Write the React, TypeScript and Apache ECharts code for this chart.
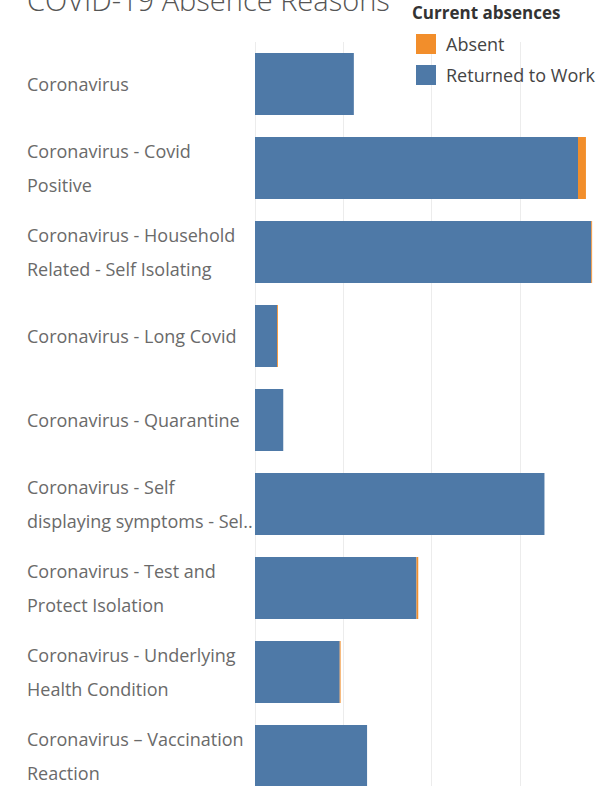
import React, { useEffect, useRef } from "react";
import * as echarts from "echarts";

const categories = [
  "Coronavirus",
  "Coronavirus - Covid\nPositive",
  "Coronavirus - Household\nRelated - Self Isolating",
  "Coronavirus - Long Covid",
  "Coronavirus - Quarantine",
  "Coronavirus - Self\ndisplaying symptoms - Sel..",
  "Coronavirus - Test and\nProtect Isolation",
  "Coronavirus - Underlying\nHealth Condition",
  "Coronavirus \u2013 Vaccination\nReaction",
];
const returnedToWork = [112, 366, 381, 25, 32, 328, 183, 96, 127];
const absent = [0, 9, 1, 1, 0, 0, 2, 1, 0];
const seriesNames = ["Absent", "Returned to Work"];

const FONT = "'Open Sans', sans-serif";

export default function App() {
  const ref = useRef<HTMLDivElement>(null);
  useEffect(() => {
    if (!ref.current) return;
    const chart = echarts.init(ref.current, null, { renderer: "svg" });
    chart.setOption({
      animation: false,
      backgroundColor: "#ffffff",
      grid: { left: 255, top: 42, width: 354, height: 756, containLabel: false },
      legend: {
        data: seriesNames,
        orient: "vertical",
        left: 416,
        top: 34,
        padding: 0,
        itemWidth: 20,
        itemHeight: 20,
        itemGap: 11,
        icon: "rect",
        selectedMode: false,
        textStyle: { fontSize: 18, color: "#444", fontFamily: FONT, padding: [0, 0, 0, 5] },
      },
      graphic: [
        {
          type: "text",
          left: 27,
          top: -15,
          style: { text: "COVID-19 Absence Reasons", fontSize: 29, fill: "#555", fontFamily: FONT, fontWeight: 300 },
        },
        {
          type: "text",
          left: 412,
          top: 4,
          style: { text: "Current absences", fontSize: 17, fontWeight: "bold", fill: "#333", fontFamily: FONT },
        },
      ],
      xAxis: {
        type: "value",
        min: 0,
        max: 400,
        interval: 100,
        axisLabel: { show: false },
        axisLine: { show: false },
        axisTick: { show: false },
        splitLine: { show: true, lineStyle: { color: "#ececec", width: 1 } },
      },
      yAxis: {
        type: "category",
        inverse: true,
        data: categories,
        axisLine: { show: false },
        axisTick: { show: false },
        axisLabel: {
          align: "left",
          margin: 228,
          fontSize: 18,
          lineHeight: 34,
          color: "#6a6a6a",
          fontFamily: FONT,
          padding: [5, 0, 0, 0],
        },
      },
      series: [
        {
          name: "Returned to Work",
          type: "bar",
          stack: "total",
          barWidth: 62,
          data: returnedToWork,
          itemStyle: { color: "#4e79a7" },
        },
        {
          name: "Absent",
          type: "bar",
          stack: "total",
          barWidth: 62,
          data: absent,
          itemStyle: { color: "#f28e2b" },
        },
      ],
    });
    return () => chart.dispose();
  }, []);
  return (
    <div style={{ position: "absolute", left: 0, top: 0, width: 608, height: 786, overflow: "hidden" }}>
      <div ref={ref} style={{ width: 608, height: 800 }} />
    </div>
  );
}
